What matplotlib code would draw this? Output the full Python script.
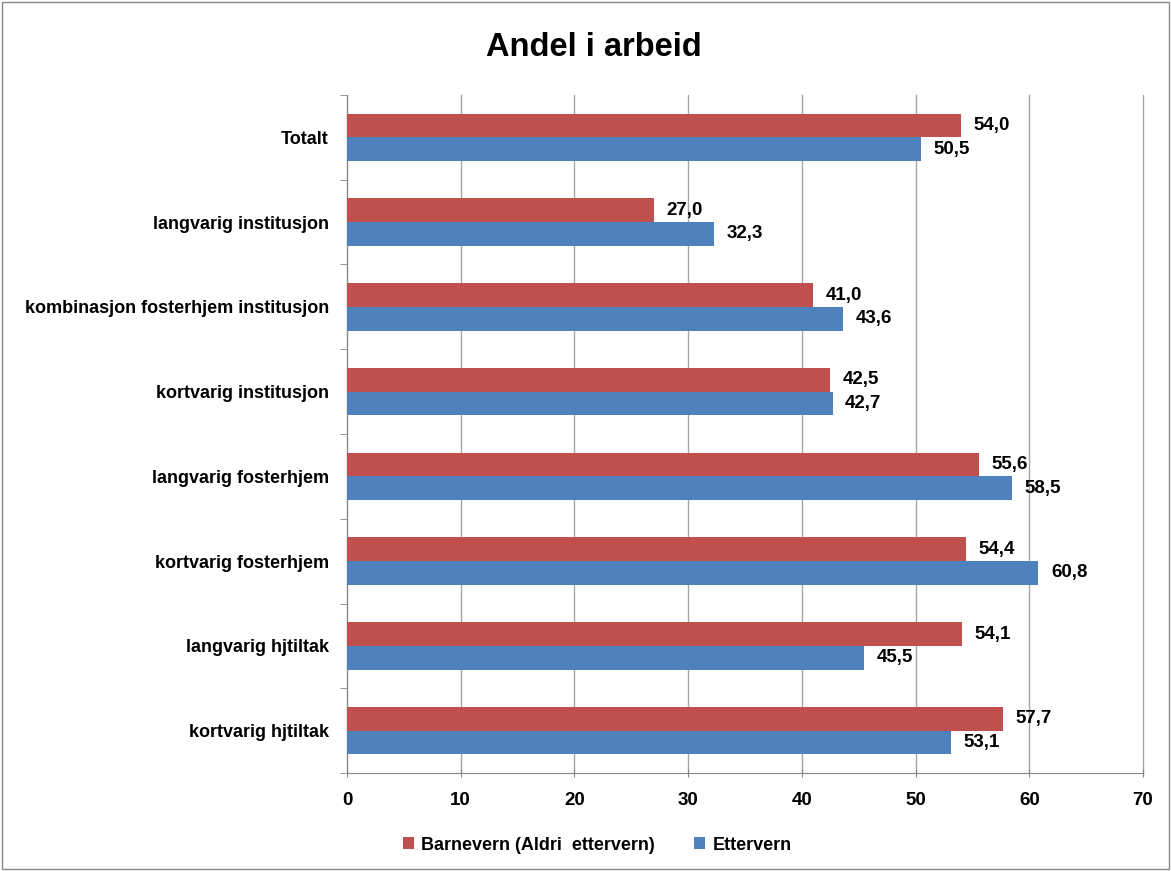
import matplotlib
matplotlib.use("Agg")
import matplotlib.pyplot as plt
import numpy as np
from matplotlib.patches import Rectangle

categories = ["Totalt", "langvarig institusjon", "kombinasjon fosterhjem institusjon",
              "kortvarig institusjon", "langvarig fosterhjem", "kortvarig fosterhjem",
              "langvarig hjtiltak", "kortvarig hjtiltak"]
barnevern = [54.0, 27.0, 41.0, 42.5, 55.6, 54.4, 54.1, 57.7]
ettervern = [50.5, 32.3, 43.6, 42.7, 58.5, 60.8, 45.5, 53.1]
series_names = ["Barnevern (Aldri  ettervern)", "Ettervern"]
xticks = [0, 10, 20, 30, 40, 50, 60, 70]

plt.rcParams['font.family'] = ['Liberation Sans', 'DejaVu Sans']

fig = plt.figure(figsize=(11.71, 8.71), dpi=100)
fig.patches.append(Rectangle((0.002, 0.002), 0.996, 0.996, transform=fig.transFigure,
                             fill=False, edgecolor='#888888', linewidth=1))
ax = fig.add_axes([347/1171, 1-773/871, (1143-347)/1171, (773-95)/871])

n = len(categories)
y = np.arange(n)[::-1]
h = 0.28
red = '#C0504D'
blue = '#4F81BD'
ax.barh(y + h/2, barnevern, height=h, color=red, label=series_names[0], zorder=3)
ax.barh(y - h/2, ettervern, height=h, color=blue, label=series_names[1], zorder=3)

def fmt(v):
    return f"{v:.1f}".replace('.', ',')

for yi, v in zip(y + h/2, barnevern):
    ax.annotate(fmt(v), (v, yi), xytext=(9, 0), textcoords='offset points',
                va='center', ha='left', fontsize=13.5, fontweight='bold')
for yi, v in zip(y - h/2, ettervern):
    ax.annotate(fmt(v), (v, yi), xytext=(9, 0), textcoords='offset points',
                va='center', ha='left', fontsize=13.5, fontweight='bold')

ax.set_xlim(0, 70)
ax.set_ylim(-0.5, n - 0.5)
ax.set_xticks(xticks)
ax.set_xticklabels([str(t) for t in xticks], fontsize=13.5, fontweight='bold')
ax.set_yticks(y)
ax.set_yticklabels(categories, fontsize=13, fontweight='bold')
ax.tick_params(axis='y', length=0, pad=13)
ax.set_yticks(np.arange(-0.5, n, 1), minor=True)
ax.tick_params(axis='y', which='minor', length=5, color='#888888')
ax.tick_params(axis='x', length=6, color='#888888', pad=11, direction='inout')
ax.grid(axis='x', color='#A6A6A6', linewidth=1, zorder=0)
for gl in ax.get_xgridlines():
    gl.set_clip_on(False)
for s in ['top', 'right']:
    ax.spines[s].set_visible(False)
for s in ['left', 'bottom']:
    ax.spines[s].set_color('#888888')

fig.text(0.507, 1-48/871, "Andel i arbeid", ha='center', va='center', fontsize=23.5, fontweight='bold')

handles, labels = ax.get_legend_handles_labels()
fig.legend(handles, labels, loc='center', bbox_to_anchor=(0.51, 1-845/871), ncol=2, frameon=False,
           prop={'size': 13, 'weight': 'bold'}, handlelength=0.6, handleheight=0.6,
           columnspacing=2.2, handletextpad=0.4)

fig.savefig("out.png", dpi=100)
